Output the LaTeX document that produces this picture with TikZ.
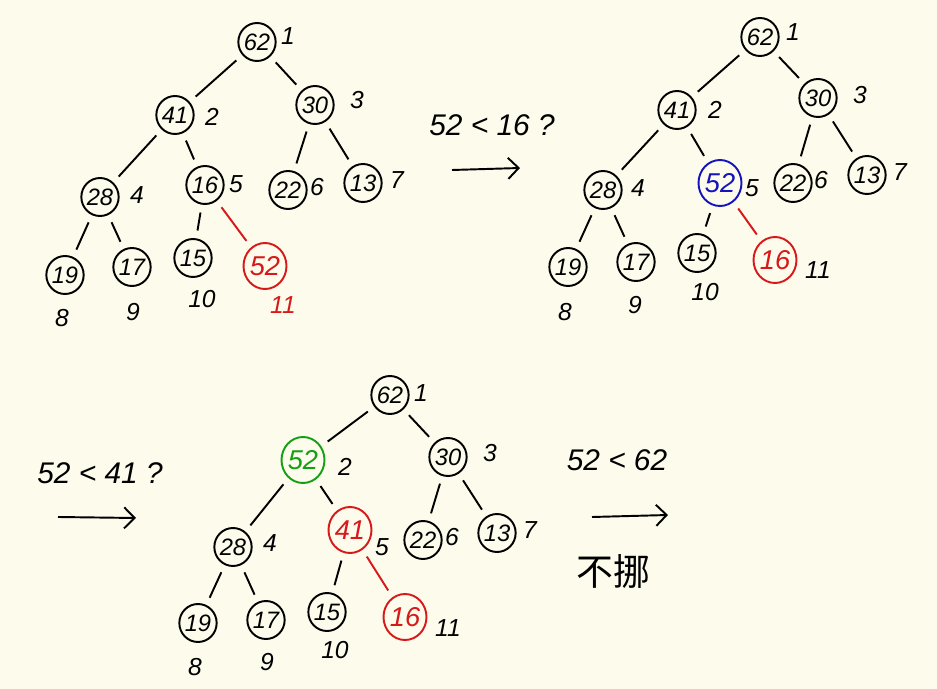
\documentclass[tikz,border=0pt]{standalone}
\usepackage{fontspec}
\setmainfont{Liberation Sans}
\newfontfamily\cjk{Noto Sans CJK SC}
\usetikzlibrary{arrows.meta,shapes.geometric}
\definecolor{paper}{RGB}{252,251,236}
\definecolor{inkred}{RGB}{215,25,25}
\definecolor{inkblue}{RGB}{20,20,190}
\definecolor{inkgreen}{RGB}{20,160,20}
\begin{document}
\begin{tikzpicture}[x=0.02cm,y=-0.02cm,
  key/.style={ellipse,draw,line width=1.1pt,minimum width=0.72cm,minimum height=0.76cm,inner sep=0pt,
    font=\fontsize{13.5}{15}\selectfont\itshape},
  hot/.style={key,minimum width=0.86cm,minimum height=0.92cm,font=\fontsize{15.5}{17}\selectfont\itshape},
  idx/.style={font=\fontsize{14}{16}\selectfont\itshape},
  edge/.style={line width=1.1pt,shorten <=4.5pt,shorten >=4.5pt},
  note/.style={font=\fontsize{17}{20}\selectfont\itshape},
  step arrow/.style={line width=1.1pt,-{Straight Barb[length=6pt,width=12pt]}}]
\fill[paper] (0,0) rectangle (937,689);
\useasboundingbox (0,0) rectangle (937,689);

% ---------- first heap: 52 appended at position 11 ----------
\node[key] (a1) at (257,42) {62};
\node[key] (a2) at (175,115) {41};
\node[key] (a3) at (315,105) {30};
\node[key] (a4) at (100,197) {28};
\node[key] (a5) at (205,185) {16};
\node[key] (a6) at (288,190) {22};
\node[key] (a7) at (363,183) {13};
\node[key] (a8) at (65,275) {19};
\node[key] (a9) at (132,267) {17};
\node[key] (a10) at (193,258) {15};
\node[hot,draw=inkred,text=inkred] (a11) at (265,266) {52};
\node[idx] (ai1) at (288,36) {1};
\node[idx] (ai2) at (212,117) {2};
\node[idx] (ai3) at (357,100) {3};
\node[idx] (ai4) at (137,195) {4};
\node[idx] (ai5) at (236,184) {5};
\node[idx] (ai6) at (317,187) {6};
\node[idx] (ai7) at (397,180) {7};
\node[idx] (ai8) at (62,318) {8};
\node[idx] (ai9) at (133,312) {9};
\node[idx] (ai10) at (202,299) {10};
\node[idx,text=inkred] (ai11) at (283,305) {11};
\draw[edge] (a1) -- (a2);
\draw[edge] (a1) -- (a3);
\draw[edge] (a2) -- (a4);
\draw[edge] (a2) -- (a5);
\draw[edge] (a3) -- (a6);
\draw[edge] (a3) -- (a7);
\draw[edge] (a4) -- (a8);
\draw[edge] (a4) -- (a9);
\draw[edge] (a5) -- (a10);
\draw[edge,inkred] (a5) -- (a11);

\node[note] (q1) at (492,125) {52 < 16 ?};
\coordinate (q1s) at (452,170);
\coordinate (q1e) at (520,168);
\draw[step arrow] (q1s) -- (q1e);

% ---------- second heap: 52 swapped with 16 ----------
\node[key] (b1) at (760,37) {62};
\node[key] (b2) at (677,110) {41};
\node[key] (b3) at (818,98) {30};
\node[key] (b4) at (603,190) {28};
\node[hot,draw=inkblue,text=inkblue] (b5) at (720,183) {52};
\node[key] (b6) at (793,183) {22};
\node[key] (b7) at (867,175) {13};
\node[key] (b8) at (568,267) {19};
\node[key] (b9) at (636,262) {17};
\node[key] (b10) at (697,253) {15};
\node[hot,draw=inkred,text=inkred] (b11) at (775,260) {16};
\node[idx] (bi1) at (793,32) {1};
\node[idx] (bi2) at (715,110) {2};
\node[idx] (bi3) at (860,95) {3};
\node[idx] (bi4) at (638,188) {4};
\node[idx] (bi5) at (752,188) {5};
\node[idx] (bi6) at (821,180) {6};
\node[idx] (bi7) at (900,172) {7};
\node[idx] (bi8) at (565,312) {8};
\node[idx] (bi9) at (635,305) {9};
\node[idx] (bi10) at (705,292) {10};
\node[idx] (bi11) at (818,270) {11};
\draw[edge] (b1) -- (b2);
\draw[edge] (b1) -- (b3);
\draw[edge] (b2) -- (b4);
\draw[edge] (b2) -- (b5);
\draw[edge] (b3) -- (b6);
\draw[edge] (b3) -- (b7);
\draw[edge] (b4) -- (b8);
\draw[edge] (b4) -- (b9);
\draw[edge] (b5) -- (b10);
\draw[edge,inkred] (b5) -- (b11);

% ---------- third heap: 52 swapped with 41 ----------
\node[note] (q2) at (100,473) {52 < 41 ?};
\coordinate (q2s) at (58,517);
\coordinate (q2e) at (136,518);
\draw[step arrow] (q2s) -- (q2e);

\node[key] (c1) at (390,395) {62};
\node[hot,draw=inkgreen,text=inkgreen] (c2) at (303,460) {52};
\node[key] (c3) at (448,457) {30};
\node[key] (c4) at (233,547) {28};
\node[hot,draw=inkred,text=inkred] (c5) at (350,530) {41};
\node[key] (c6) at (423,540) {22};
\node[key] (c7) at (497,533) {13};
\node[key] (c8) at (198,623) {19};
\node[key] (c9) at (266,620) {17};
\node[key] (c10) at (327,612) {15};
\node[hot,draw=inkred,text=inkred] (c11) at (405,617) {16};
\node[idx] (ci1) at (421,393) {1};
\node[idx] (ci2) at (345,467) {2};
\node[idx] (ci3) at (490,453) {3};
\node[idx] (ci4) at (270,543) {4};
\node[idx] (ci5) at (382,547) {5};
\node[idx] (ci6) at (452,537) {6};
\node[idx] (ci7) at (530,530) {7};
\node[idx] (ci8) at (195,667) {8};
\node[idx] (ci9) at (267,662) {9};
\node[idx] (ci10) at (335,650) {10};
\node[idx] (ci11) at (448,628) {11};
\draw[edge] (c1) -- (c2);
\draw[edge] (c1) -- (c3);
\draw[edge] (c2) -- (c4);
\draw[edge] (c2) -- (c5);
\draw[edge] (c3) -- (c6);
\draw[edge] (c3) -- (c7);
\draw[edge] (c4) -- (c8);
\draw[edge] (c4) -- (c9);
\draw[edge] (c5) -- (c10);
\draw[edge,inkred] (c5) -- (c11);

\node[note] (q3) at (617,460) {52 < 62};
\coordinate (q3s) at (592,517);
\coordinate (q3e) at (668,515);
\draw[step arrow] (q3s) -- (q3e);
\node[font=\cjk\fontsize{21}{24}\selectfont] (stay) at (613,572) {不挪};
\end{tikzpicture}
\end{document}
